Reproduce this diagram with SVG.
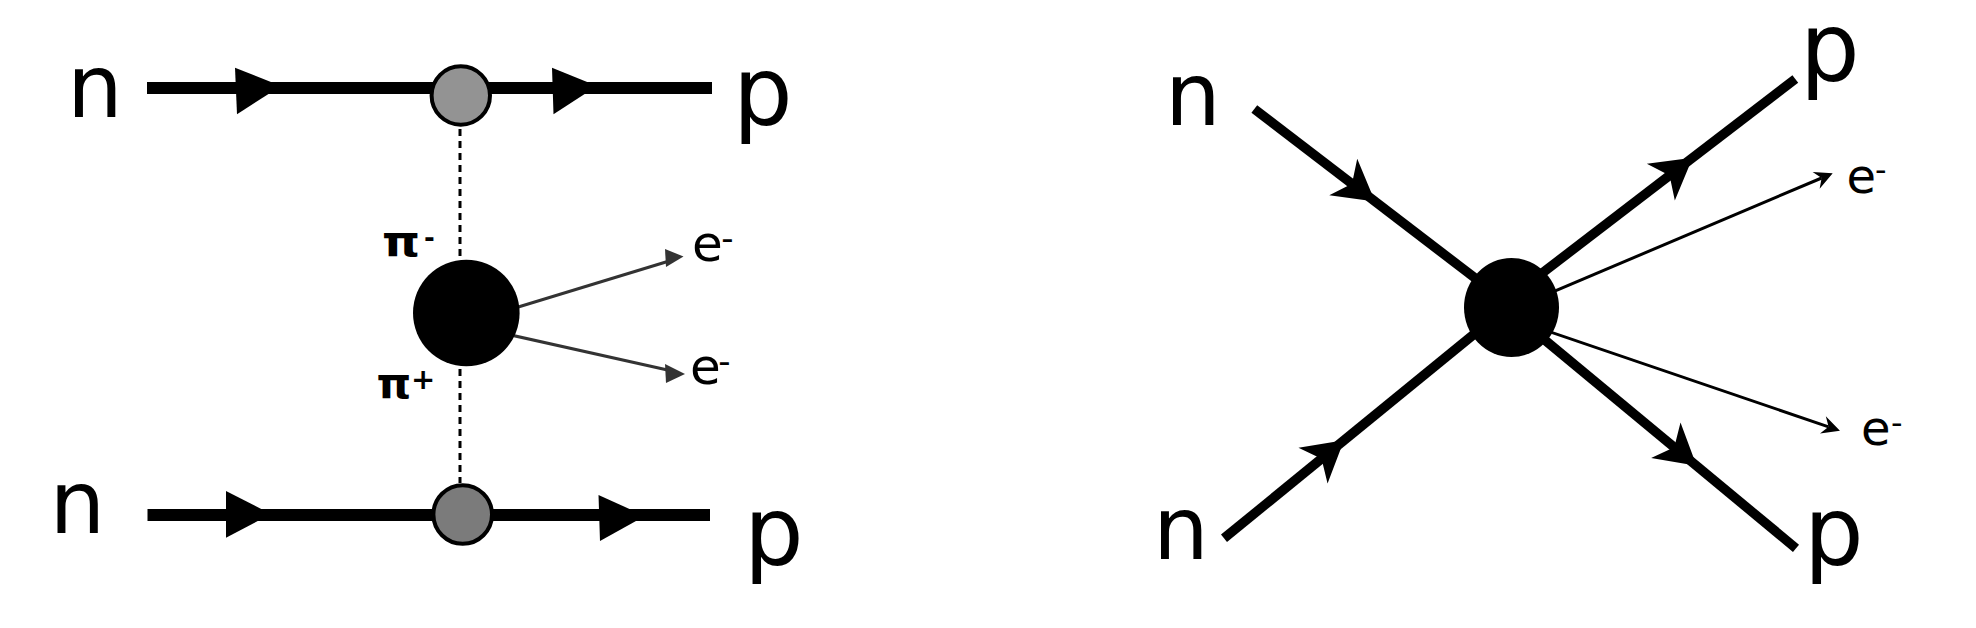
<svg xmlns="http://www.w3.org/2000/svg" width="1976" height="628" viewBox="0 0 1976 628">
<style>
.thick{stroke:#000;stroke-width:12;fill:none}
.thickr{stroke:#000;stroke-width:9.5;fill:none}
.dash{stroke:#000;stroke-width:3;stroke-dasharray:7 5;fill:none}
.thin{stroke:#333;stroke-width:3;fill:none}
.thinr{stroke:#000;stroke-width:3;fill:none}
.head{fill:#000}
.headg{fill:#333}
.lbl{font-family:"DejaVu Sans",sans-serif;fill:#000}
.pi{font-family:"DejaVu Sans",sans-serif;font-weight:bold;fill:#000}
.vtx{stroke:#000;stroke-width:4}
</style>
<defs>
<path id="dart" d="M0,0 L-40,-23 L-29,0 L-40,23 Z"/>
<marker id="arrS" markerUnits="userSpaceOnUse" markerWidth="22" markerHeight="20" viewBox="-8 -10 22 20" refX="0" refY="0" orient="auto"><path d="M12,0 L-6,-9 L0,0 L-6,9 Z" fill="#000"/></marker>
</defs>
<rect width="1976" height="628" fill="#fff"/>
<g id="connectors">
<line class="thick" x1="147" y1="88" x2="712" y2="88"/>
<line class="thick" x1="147.5" y1="515" x2="710" y2="515"/>
<polygon class="head" points="235,67.7 281,86 237,114.3"/>
<polygon class="head" points="552,67.7 597,86 553.5,114.3"/>
<polygon class="head" points="226,491 271,514 226,537.7"/>
<polygon class="head" points="598.5,495 645,516 600,541"/>
<line class="dash" x1="460" y1="129" x2="460" y2="256"/>
<line class="dash" x1="460" y1="369" x2="460" y2="483"/>
<line class="thin" x1="505" y1="311" x2="670" y2="260.7"/>
<polygon class="headg" points="665,249 683.5,256.5 666,267"/>
<line class="thin" x1="500" y1="332.6" x2="672" y2="371"/>
<polygon class="headg" points="665,364 685,374 666,383"/>
<line class="thickr" x1="1254.3" y1="109" x2="1511" y2="305.6"/>
<line class="thickr" x1="1511" y1="297" x2="1795.3" y2="79"/>
<line class="thickr" x1="1224" y1="538.3" x2="1511" y2="304"/>
<line class="thickr" x1="1511" y1="312" x2="1796" y2="548.3"/>
<use href="#dart" transform="translate(1375,201.4) rotate(37.45)"/>
<use href="#dart" transform="translate(1692.6,157.8) rotate(-37.45)"/>
<use href="#dart" transform="translate(1344,440.3) rotate(-39.24)"/>
<use href="#dart" transform="translate(1696.6,465.8) rotate(39.69)"/>
<line class="thinr" x1="1516.5" y1="307.3" x2="1821.65" y2="178" marker-end="url(#arrS)"/>
<line class="thinr" x1="1514.6" y1="319.8" x2="1828.6" y2="426.8" marker-end="url(#arrS)"/>
</g>
<g id="vertex-top">
<circle class="vtx" cx="460.8" cy="95.5" r="29.2" fill="#939393"/>
</g>
<g id="vertex-bottom">
<circle class="vtx" cx="462.7" cy="514.5" r="29.3" fill="#7b7b7b"/>
</g>
<g id="blob-left">
<circle cx="466.3" cy="313" r="53.3" fill="#000"/>
</g>
<g id="blob-right">
<ellipse cx="1511.5" cy="307.5" rx="47.5" ry="49.5" fill="#000"/>
</g>
<g id="labels-left">
<text class="lbl" x="67" y="117" font-size="88">n</text>
<text class="lbl" x="49.5" y="533" font-size="88">n</text>
<text class="lbl" x="733" y="123.7" font-size="94">p</text>
<text class="lbl" x="744" y="563.7" font-size="94">p</text>
<text class="pi" transform="translate(382,255.5) scale(1.15,1)" x="0" y="0" font-size="42">π</text>
<text class="pi" x="424" y="247" font-size="26">-</text>
<text class="pi" transform="translate(376.5,397.5) scale(1.05,1)" x="0" y="0" font-size="42">π</text>
<text class="pi" x="411" y="388.5" font-size="29">+</text>
<text class="lbl" x="692" y="261.3" font-size="50">e</text>
<text class="lbl" x="721.3" y="250" font-size="34">-</text>
<text class="lbl" x="690" y="384.3" font-size="50">e</text>
<text class="lbl" x="718.3" y="373" font-size="34">-</text>
</g>
<g id="labels-right">
<text class="lbl" x="1165" y="125" font-size="88">n</text>
<text class="lbl" x="1153" y="559.3" font-size="88">n</text>
<text class="lbl" x="1800" y="80.4" font-size="94">p</text>
<text class="lbl" x="1804" y="563.7" font-size="94">p</text>
<text class="lbl" x="1846.5" y="192.7" font-size="48">e</text>
<text class="lbl" x="1875" y="181.3" font-size="32">-</text>
<text class="lbl" x="1861" y="444.5" font-size="48">e</text>
<text class="lbl" x="1891" y="434" font-size="32">-</text>
</g>
</svg>
